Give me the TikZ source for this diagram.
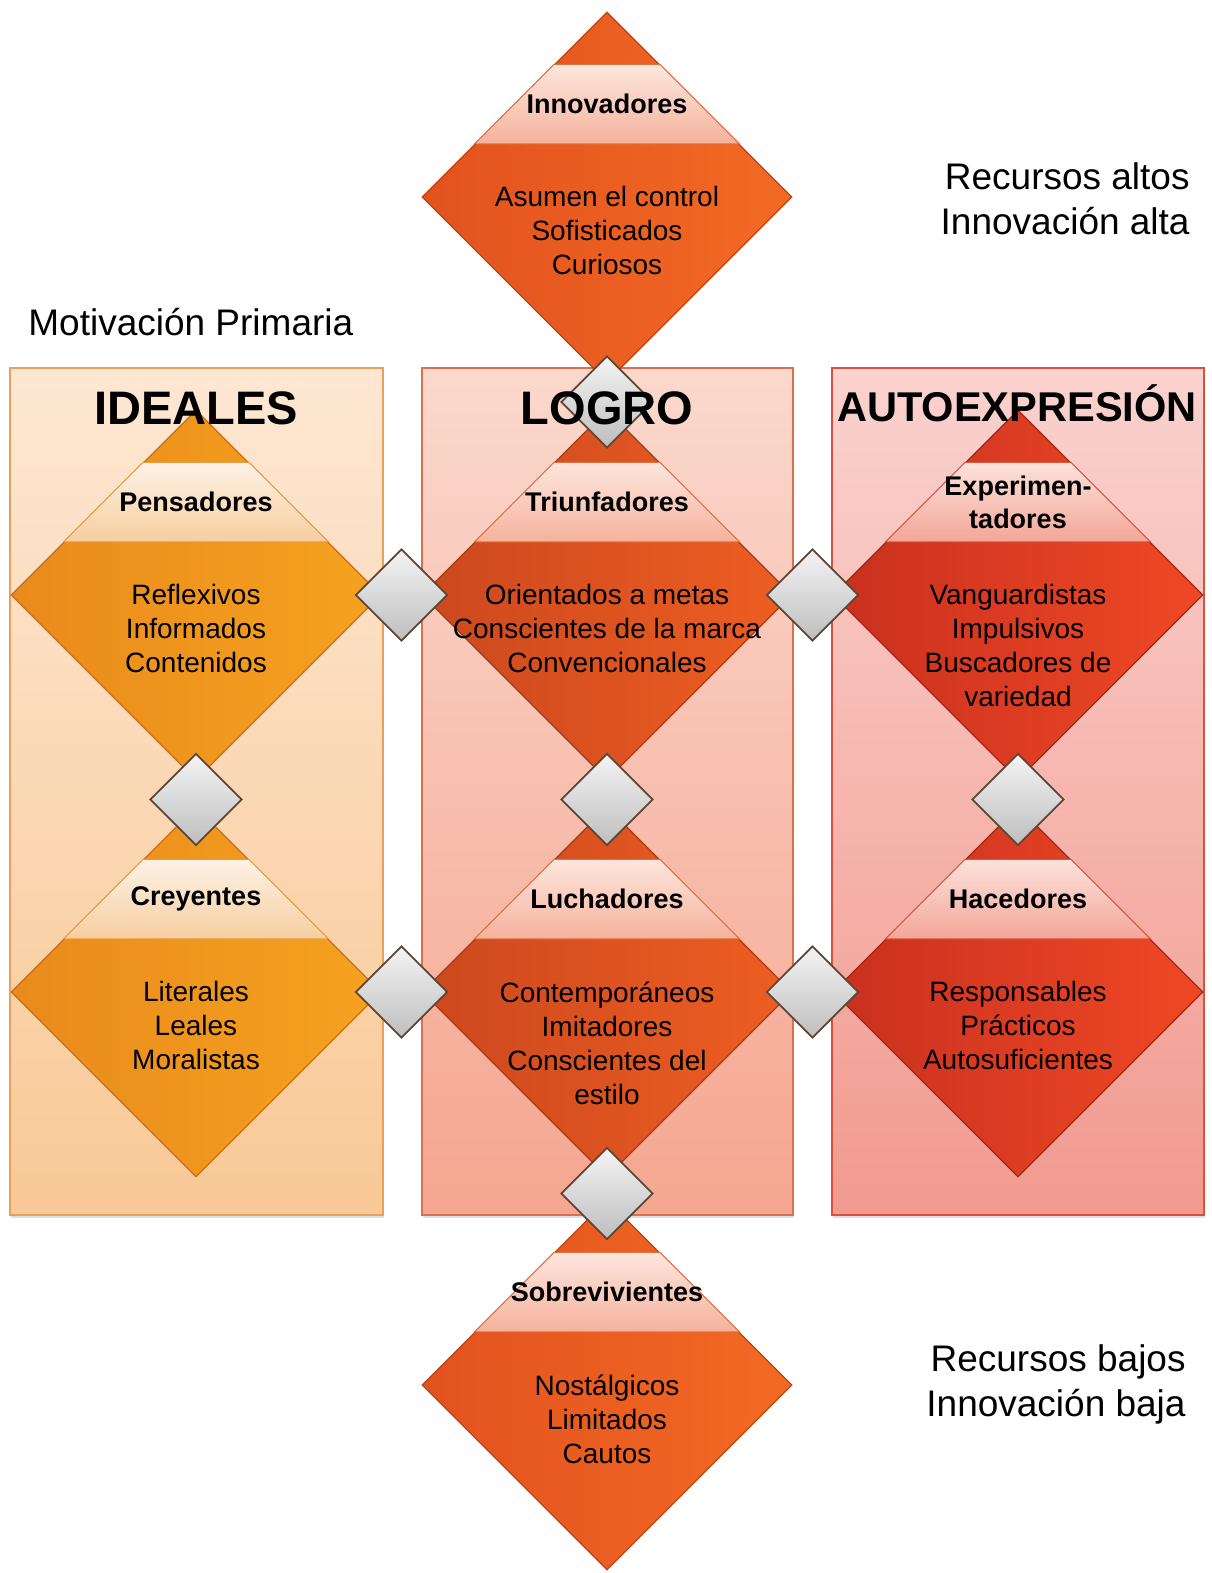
\documentclass[tikz,border=0pt]{standalone}
\usepackage{fontspec}
\setmainfont{Liberation Sans}
\usetikzlibrary{shapes.geometric, calc, shadows}

\definecolor{idealA}{HTML}{FDE7D3}
\definecolor{idealB}{HTML}{F9C996}
\definecolor{idealBorde}{HTML}{E8A05A}
\definecolor{logroA}{HTML}{FBD8CD}
\definecolor{logroB}{HTML}{F5A690}
\definecolor{logroBorde}{HTML}{D9714F}
\definecolor{autoA}{HTML}{FAD2CE}
\definecolor{autoB}{HTML}{F29A8F}
\definecolor{autoBorde}{HTML}{D9503F}
\definecolor{naranjaL}{HTML}{E98A1C}
\definecolor{naranjaR}{HTML}{F6A21F}
\definecolor{naranjaBorde}{HTML}{C8701A}
\definecolor{logroL}{HTML}{CB481E}
\definecolor{logroR}{HTML}{EE5E22}
\definecolor{logroRombo}{HTML}{A83A18}
\definecolor{extremoL}{HTML}{E2521F}
\definecolor{extremoR}{HTML}{F36A23}
\definecolor{extremoBorde}{HTML}{B8461C}
\definecolor{rojoL}{HTML}{C9301F}
\definecolor{rojoR}{HTML}{EF4825}
\definecolor{rojoBorde}{HTML}{A02818}
\definecolor{bandaIA}{HTML}{FDF2E6}
\definecolor{bandaIB}{HTML}{F6CE9F}
\definecolor{bandaIBorde}{HTML}{E89A40}
\definecolor{bandaLA}{HTML}{FDE6DE}
\definecolor{bandaLB}{HTML}{F5B29C}
\definecolor{bandaLBorde}{HTML}{E0703F}
\definecolor{bandaAA}{HTML}{FCE2DC}
\definecolor{bandaAB}{HTML}{F3A698}
\definecolor{bandaABorde}{HTML}{D85540}
\definecolor{grisA}{HTML}{F4F4F4}
\definecolor{grisB}{HTML}{BEBEBE}
\definecolor{grisBorde}{HTML}{5E4636}

\tikzset{
  columna/.style={line width=0.8pt, drop shadow={shadow xshift=0.6pt, shadow yshift=-1.6pt, opacity=0.25}},
  rombo/.style={diamond, aspect=1, inner sep=0pt, minimum width=185pt, minimum height=185pt, line width=0.6pt},
  romboideal/.style={rombo, left color=naranjaL, right color=naranjaR, draw=naranjaBorde},
  rombologro/.style={rombo, left color=logroL, right color=logroR, draw=logroRombo},
  romboextremo/.style={rombo, left color=extremoL, right color=extremoR, draw=extremoBorde},
  romboauto/.style={rombo, left color=rojoL, right color=rojoR, draw=rojoBorde},
  bandaideal/.style={top color=bandaIA, bottom color=bandaIB, draw=bandaIBorde, line width=0.5pt},
  bandalogro/.style={top color=bandaLA, bottom color=bandaLB, draw=bandaLBorde, line width=0.5pt},
  bandaauto/.style={top color=bandaAA, bottom color=bandaAB, draw=bandaABorde, line width=0.5pt},
  rombito/.style={diamond, aspect=1, inner sep=0pt, minimum width=46pt, minimum height=46pt, draw=grisBorde, line width=0.9pt, top color=grisA, bottom color=grisB},
  titulo/.style={font=\fontsize{13.5}{16.5}\selectfont\bfseries, align=center, inner sep=0pt},
  cuerpo/.style={font=\fontsize{14}{17}\selectfont, align=center, inner sep=0pt, anchor=north},
  encabezado/.style={font=\fontsize{23.5}{28}\selectfont\bfseries, inner sep=0pt},
  nota/.style={font=\fontsize{18.5}{22.5}\selectfont, inner sep=0pt},
}

\begin{document}
\begin{tikzpicture}[x=0.5pt,y=0.5pt,yscale=-1,xscale=1]
\useasboundingbox (0,0) rectangle (1211,1573);

%Shape: Rectangle
\draw [columna, top color=idealA, bottom color=idealB, draw=idealBorde] (10,368) rectangle (383,1215);
%Shape: Rectangle
\draw [columna, top color=logroA, bottom color=logroB, draw=logroBorde] (422,368) rectangle (793,1215);
%Shape: Rectangle
\draw [columna, top color=autoA, bottom color=autoB, draw=autoBorde] (832,368) rectangle (1204,1215);

% Text Node
\node [nota, anchor=west] (motivacion) at (28,322) {Motivación Primaria};
% Text Node
\node [nota, anchor=east, align=right] (altos) at (1190,199) {Recursos altos\\Innovación alta};
% Text Node
\node [nota, anchor=east, align=right] (bajos) at (1186,1384) {Recursos bajos\\Innovación baja};

%Shape: Diamond
\node [romboextremo] (innovadores) at (607,197) {};
\path [bandalogro] ($(innovadores.north)!0.286!(innovadores.west)$) -- ($(innovadores.north)!0.286!(innovadores.east)$) -- ($(innovadores.north)!0.714!(innovadores.east)$) -- ($(innovadores.north)!0.714!(innovadores.west)$) -- cycle;
\node [titulo] (innovadores-t) at ($(innovadores.north)!0.5!(innovadores.center)$) {Innovadores};
\node [cuerpo] (innovadores-c) at ($(innovadores.center)+(0,-11)$) {Asumen el control\\Sofisticados\\Curiosos};

%Shape: Diamond
\node [romboideal] (pensadores) at (196,595) {};
\path [bandaideal] ($(pensadores.north)!0.286!(pensadores.west)$) -- ($(pensadores.north)!0.286!(pensadores.east)$) -- ($(pensadores.north)!0.714!(pensadores.east)$) -- ($(pensadores.north)!0.714!(pensadores.west)$) -- cycle;
\node [titulo] (pensadores-t) at ($(pensadores.north)!0.5!(pensadores.center)$) {Pensadores};
\node [cuerpo] (pensadores-c) at ($(pensadores.center)+(0,-11)$) {Reflexivos\\Informados\\Contenidos};

%Shape: Diamond
\node [rombologro] (triunfadores) at (607,595) {};
\path [bandalogro] ($(triunfadores.north)!0.286!(triunfadores.west)$) -- ($(triunfadores.north)!0.286!(triunfadores.east)$) -- ($(triunfadores.north)!0.714!(triunfadores.east)$) -- ($(triunfadores.north)!0.714!(triunfadores.west)$) -- cycle;
\node [titulo] (triunfadores-t) at ($(triunfadores.north)!0.5!(triunfadores.center)$) {Triunfadores};
\node [cuerpo] (triunfadores-c) at ($(triunfadores.center)+(0,-11)$) {Orientados a metas\\Conscientes de la marca\\Convencionales};

%Shape: Diamond
\node [romboauto] (experimentadores) at (1018,595) {};
\path [bandaauto] ($(experimentadores.north)!0.286!(experimentadores.west)$) -- ($(experimentadores.north)!0.286!(experimentadores.east)$) -- ($(experimentadores.north)!0.714!(experimentadores.east)$) -- ($(experimentadores.north)!0.714!(experimentadores.west)$) -- cycle;
\node [titulo] (experimentadores-t) at ($(experimentadores.north)!0.5!(experimentadores.center)$) {Experimen-\\tadores};
\node [cuerpo] (experimentadores-c) at ($(experimentadores.center)+(0,-11)$) {Vanguardistas\\Impulsivos\\Buscadores de\\variedad};

%Shape: Diamond
\node [romboideal] (creyentes) at (196,992) {};
\path [bandaideal] ($(creyentes.north)!0.286!(creyentes.west)$) -- ($(creyentes.north)!0.286!(creyentes.east)$) -- ($(creyentes.north)!0.714!(creyentes.east)$) -- ($(creyentes.north)!0.714!(creyentes.west)$) -- cycle;
\node [titulo] (creyentes-t) at ($(creyentes.north)!0.5!(creyentes.center)$) {Creyentes};
\node [cuerpo] (creyentes-c) at ($(creyentes.center)+(0,-11)$) {Literales\\Leales\\Moralistas};

%Shape: Diamond
\node [rombologro] (luchadores) at (607,992) {};
\path [bandalogro] ($(luchadores.north)!0.286!(luchadores.west)$) -- ($(luchadores.north)!0.286!(luchadores.east)$) -- ($(luchadores.north)!0.714!(luchadores.east)$) -- ($(luchadores.north)!0.714!(luchadores.west)$) -- cycle;
\node [titulo] (luchadores-t) at ($(luchadores.north)!0.5!(luchadores.center)$) {Luchadores};
\node [cuerpo] (luchadores-c) at ($(luchadores.center)+(0,-11)$) {Contemporáneos\\Imitadores\\Conscientes del\\estilo};

%Shape: Diamond
\node [romboauto] (hacedores) at (1018,992) {};
\path [bandaauto] ($(hacedores.north)!0.286!(hacedores.west)$) -- ($(hacedores.north)!0.286!(hacedores.east)$) -- ($(hacedores.north)!0.714!(hacedores.east)$) -- ($(hacedores.north)!0.714!(hacedores.west)$) -- cycle;
\node [titulo] (hacedores-t) at ($(hacedores.north)!0.5!(hacedores.center)$) {Hacedores};
\node [cuerpo] (hacedores-c) at ($(hacedores.center)+(0,-11)$) {Responsables\\Prácticos\\Autosuficientes};

%Shape: Diamond
\node [romboextremo] (sobrevivientes) at (607,1385) {};
\path [bandalogro] ($(sobrevivientes.north)!0.286!(sobrevivientes.west)$) -- ($(sobrevivientes.north)!0.286!(sobrevivientes.east)$) -- ($(sobrevivientes.north)!0.714!(sobrevivientes.east)$) -- ($(sobrevivientes.north)!0.714!(sobrevivientes.west)$) -- cycle;
\node [titulo] (sobrevivientes-t) at ($(sobrevivientes.north)!0.5!(sobrevivientes.center)$) {Sobrevivientes};
\node [cuerpo] (sobrevivientes-c) at ($(sobrevivientes.center)+(0,-11)$) {Nostálgicos\\Limitados\\Cautos};

%Shape: Diamond (enlaces)
\node [rombito] (innov-triun) at ($(innovadores.south)!0.5!(triunfadores.north)+(0,6)$) {};
\node [rombito] (pens-triun) at ($(pensadores.east)!0.5!(triunfadores.west)$) {};
\node [rombito] (triun-exp) at ($(triunfadores.east)!0.5!(experimentadores.west)$) {};
\node [rombito] (pens-crey) at ($(pensadores.south)!0.5!(creyentes.north)+(0,6)$) {};
\node [rombito] (triun-luch) at ($(triunfadores.south)!0.5!(luchadores.north)+(0,6)$) {};
\node [rombito] (exp-hac) at ($(experimentadores.south)!0.5!(hacedores.north)+(0,6)$) {};
\node [rombito] (crey-luch) at ($(creyentes.east)!0.5!(luchadores.west)$) {};
\node [rombito] (luch-hac) at ($(luchadores.east)!0.5!(hacedores.west)$) {};
\node [rombito] (luch-sobrev) at ($(luchadores.south)!0.5!(sobrevivientes.north)+(0,5)$) {};

% Text Node
\node [encabezado] (ideales) at (196,408) {IDEALES};
% Text Node
\node [encabezado] (logro) at (607,408) {LOGRO};
% Text Node
\node [encabezado, font=\fontsize{20.8}{24}\selectfont\bfseries] (autoexp) at (1017,403) {AUTOEXPRESIÓN};

\end{tikzpicture}
\end{document}
